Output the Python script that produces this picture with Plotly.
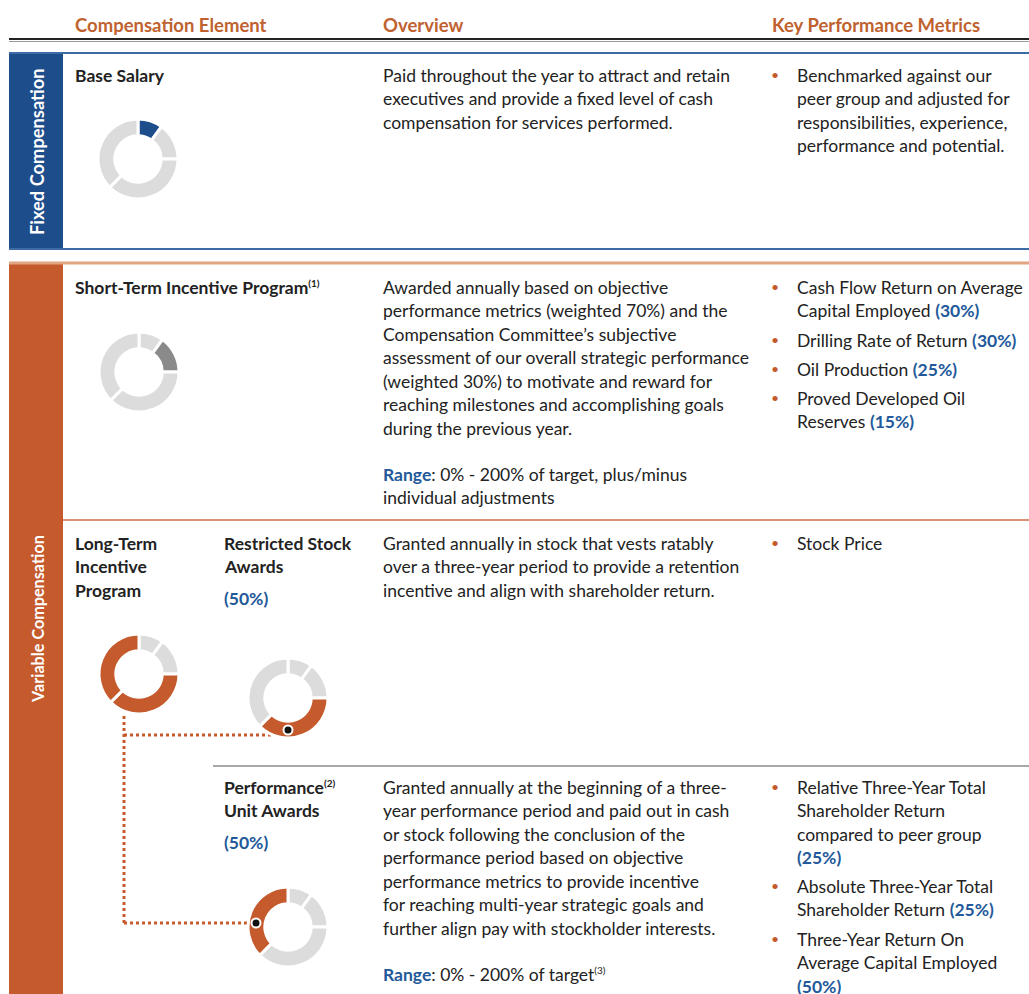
import plotly.graph_objects as go

# ---------------- data ----------------
header_labels = ["Compensation Element", "Overview", "Key Performance Metrics"]
section_labels = ["Fixed Compensation", "Variable Compensation"]

segment_names = ["Base Salary", "Short-Term Incentive", "Restricted Stock Awards", "Performance Unit Awards"]
segment_values = [10, 15, 37.5, 37.5]

PCT = "<b><span style='color:#23599A'>%s</span></b>"
SUP = "<sup><span style='font-size:10px'>%s</span></sup>"

base_overview = [
    "Paid throughout the year to attract and retain",
    "executives and provide a fixed level of cash",
    "compensation for services performed.",
]
base_metrics = [
    ["Benchmarked against our", "peer group and adjusted for",
     "responsibilities, experience,", "performance and potential."],
]
sti_overview = [
    "Awarded annually based on objective",
    "performance metrics (weighted 70%) and the",
    "Compensation Committee\u2019s subjective",
    "assessment of our overall strategic performance",
    "(weighted 30%) to motivate and reward for",
    "reaching milestones and accomplishing goals",
    "during the previous year.",
]
sti_range = ["0% - 200% of target, plus/minus", "individual adjustments"]
sti_metrics = [
    ["Cash Flow Return on Average", "Capital Employed " + PCT % "(30%)"],
    ["Drilling Rate of Return " + PCT % "(30%)"],
    ["Oil Production " + PCT % "(25%)"],
    ["Proved Developed Oil", "Reserves " + PCT % "(15%)"],
]
rsa_overview = [
    "Granted annually in stock that vests ratably",
    "over a three-year period to provide a retention",
    "incentive and align with shareholder return.",
]
rsa_metrics = [["Stock Price"]]
pua_overview = [
    "Granted annually at the beginning of a three-",
    "year performance period and paid out in cash",
    "or stock following the conclusion of the",
    "performance period based on objective",
    "performance metrics to provide incentive",
    "for reaching multi-year strategic goals and",
    "further align pay with stockholder interests.",
]
pua_range = ["0% - 200% of target" + SUP % "(3)"]
pua_metrics = [
    ["Relative Three-Year Total", "Shareholder Return", "compared to peer group", PCT % "(25%)"],
    ["Absolute Three-Year Total", "Shareholder Return " + PCT % "(25%)"],
    ["Three-Year Return On", "Average Capital Employed", PCT % "(50%)"],
]

# ---------------- style ----------------
W, H = 1029, 994
FONT = "Lato"
FS = 17.5
LH = 23.5
TXT = "#222222"
ORANGE = "#C55A2C"
HEAD_ORANGE = "#C0622F"
BLUE = "#1E4D8C"
PCT_BLUE = "#23599A"
LGRAY = "#DCDCDC"
DGRAY = "#8A8A8A"
X_ELEM, X_OVER, X_BUL, X_MET = 74, 382, 775, 796

fig = go.Figure()
shapes = []
ann = []


def text(x, y, s, size=FS, color=TXT, bold=False, angle=0, xanchor="left"):
    if bold:
        s = "<b>" + s + "</b>"
    ann.append(dict(x=x, y=y, xref="x", yref="y", text=s, showarrow=False,
                    xanchor=xanchor, yanchor="middle", textangle=angle, borderpad=0,
                    font=dict(family=FONT, size=size, color=color)))


def lines(x, y0, items, **kw):
    for i, s in enumerate(items):
        text(x, y0 + i * LH, s, **kw)


def bullets(y_starts, groups):
    for y0, g in zip(y_starts, groups):
        text(X_BUL, y0 - 1, "\u2022", size=14, color=ORANGE, xanchor="center")
        lines(X_MET, y0, g)


def hline(y, x0, x1, color, width, dash="solid"):
    shapes.append(dict(type="line", x0=x0, x1=x1, y0=y, y1=y, xref="x", yref="y",
                       line=dict(color=color, width=width, dash=dash), layer="below"))


def vline(x, y0, y1, color, width, dash="solid"):
    shapes.append(dict(type="line", x0=x, x1=x, y0=y0, y1=y1, xref="x", yref="y",
                       line=dict(color=color, width=width, dash=dash), layer="below"))


def rect(x0, y0, x1, y1, color):
    shapes.append(dict(type="rect", x0=x0, x1=x1, y0=y0, y1=y1, xref="x", yref="y",
                       fillcolor=color, line=dict(width=0), layer="below"))


def dot(cx, cy):
    shapes.append(dict(type="circle", x0=cx - 4.5, x1=cx + 4.5, y0=cy - 4.5, y1=cy + 4.5,
                       xref="x", yref="y", fillcolor="#111111",
                       line=dict(color="white", width=2), layer="above"))


def donut(cx, cy, r, highlight, hcolor):
    colors = [hcolor if i in highlight else LGRAY for i in range(len(segment_values))]
    fig.add_trace(go.Pie(
        labels=segment_names, values=segment_values, sort=False, direction="clockwise",
        rotation=0, hole=0.58, textinfo="none", hoverinfo="label+percent",
        marker=dict(colors=colors, line=dict(color="white", width=3)),
        domain=dict(x=[(cx - r) / W, (cx + r) / W], y=[1 - (cy + r) / H, 1 - (cy - r) / H]),
        showlegend=False))


# ---------------- header ----------------
text(X_ELEM, 25, header_labels[0], size=18.5, color=HEAD_ORANGE, bold=True)
text(X_OVER, 25, header_labels[1], size=18.5, color=HEAD_ORANGE, bold=True)
text(771, 25, header_labels[2], size=18.5, color=HEAD_ORANGE, bold=True)
hline(39, 9, W, "#222222", 2)
hline(41.5, 9, W, "#9A9A9A", 1)

# ---------------- fixed block ----------------
rect(9, 53, 63, 249, BLUE)
hline(53, 9, W, "#3D6BA6", 2)
hline(249, 9, W, "#3D6BA6", 2)
text(37, 152, section_labels[0], size=18.3, color="white", bold=True, angle=-90, xanchor="center")

# ---------------- variable block ----------------
rect(9, 263, 63, H, ORANGE)
hline(263, 9, W, "#E2A584", 3)
hline(520, 63, W, "#D99274", 2)
hline(766, 213, W, "#A8A8A8", 2)
text(37, 619, section_labels[1], size=16.2, color="white", bold=True, angle=-90, xanchor="center")

# ---------------- row: base salary ----------------
text(X_ELEM, 75, "Base Salary", bold=True)
lines(X_OVER, 75, base_overview)
bullets([75], base_metrics)
donut(138, 159, 40, [0], BLUE)

# ---------------- row: STI ----------------
text(X_ELEM, 287, "Short-Term Incentive Program" + SUP % "(1)", bold=True)
lines(X_OVER, 287, sti_overview)
text(X_OVER, 474, "<b><span style='color:%s'>Range</span></b>: %s" % (PCT_BLUE, sti_range[0]))
text(X_OVER, 497.5, sti_range[1])
bullets([287, 340, 369, 398], sti_metrics)
donut(139, 372, 40, [1], DGRAY)

# ---------------- row: LTI / RSA ----------------
lines(X_ELEM, 543, ["Long-Term", "Incentive", "Program"], bold=True)
lines(223, 543, ["Restricted Stock", "Awards"], bold=True)
text(223, 598, "(50%)", color=PCT_BLUE, bold=True)
lines(X_OVER, 543, rsa_overview)
bullets([543], rsa_metrics)
donut(139, 674, 40, [2, 3], ORANGE)
donut(288, 698, 40, [2], ORANGE)

# ---------------- row: PUA ----------------
text(223, 787, "Performance" + SUP % "(2)", bold=True)
text(223, 810.5, "Unit Awards", bold=True)
text(223, 842, "(50%)", color=PCT_BLUE, bold=True)
lines(X_OVER, 787, pua_overview)
text(X_OVER, 974, "<b><span style='color:%s'>Range</span></b>: %s" % (PCT_BLUE, pua_range[0]))
bullets([787, 886, 939], pua_metrics)
donut(288, 927, 40, [3], ORANGE)

# ---------------- connectors ----------------
vline(124, 716, 923, ORANGE, 3, "dot")
hline(735, 124, 272, ORANGE, 3, "dot")
hline(923, 124, 252, ORANGE, 3, "dot")
dot(288, 730)
dot(256, 923)

fig.update_layout(
    width=W, height=H, margin=dict(l=0, r=0, t=0, b=0),
    paper_bgcolor="white", plot_bgcolor="white",
    xaxis=dict(range=[0, W], visible=False, fixedrange=True, domain=[0, 1]),
    yaxis=dict(range=[H, 0], visible=False, fixedrange=True, domain=[0, 1]),
    shapes=shapes, annotations=ann, showlegend=False,
)

fig.write_html("out.html", config={"displayModeBar": False},
               post_script="document.body.style.margin='0';document.body.style.overflow='hidden';")
